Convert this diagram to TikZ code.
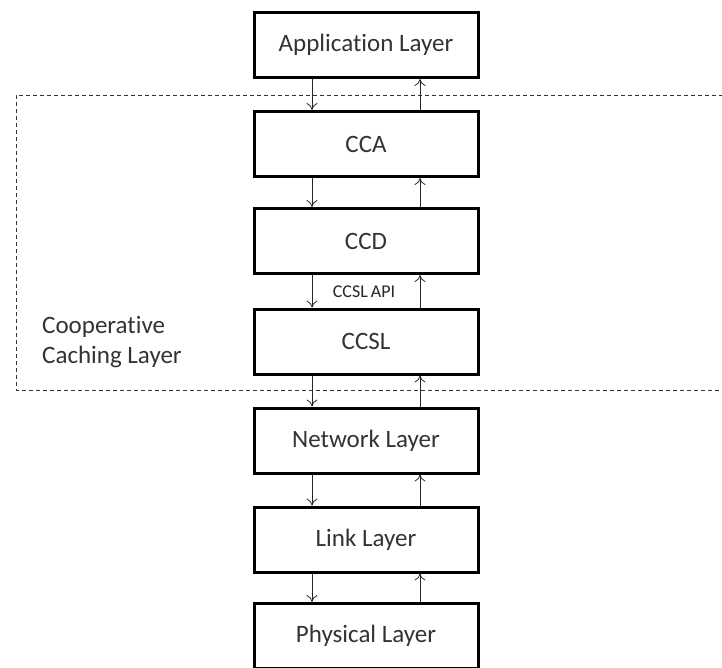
\documentclass[tikz,border=0pt]{standalone}
\usepackage{fontspec}
\setmainfont[Ligatures={NoCommon}]{Carlito}
\usetikzlibrary{arrows.meta}
\begin{document}
\begin{tikzpicture}[x=1pt,y=-1pt,
  layerbox/.style={draw=black, line width=3pt, fill=white, minimum width=224pt, minimum height=65pt, inner sep=0pt,
    font=\fontsize{25}{29}\selectfont, text=black!80},
  flow/.style={draw=black!85, line width=0.8pt, -{To[length=7pt,width=11pt]}},
  grp/.style={draw=black!80, line width=0.8pt, dash pattern=on 4pt off 3pt}]
\useasboundingbox (0,0) rectangle (722,668);
% dashed group outline (right side runs past the picture edge)
\draw[grp] (730,95) -- (16,95) -- (16,390) -- (730,390);
\node[layerbox] (app) at (366,45) {Application Layer};
\node[layerbox] (cca) at (366,144) {CCA};
\node[layerbox] (ccd) at (366,241) {CCD};
\node[layerbox] (ccsl) at (366,341.5) {CCSL};
\node[layerbox] (net) at (366,440.5) {Network Layer};
\node[layerbox] (link) at (366,539.5) {Link Layer};
\node[layerbox] (phy) at (366,636) {Physical Layer};
\foreach \a/\b in {app/cca, cca/ccd, ccd/ccsl, ccsl/net, net/link, link/phy}{
  \draw[flow] ([xshift=-54pt]\a.south) -- ([xshift=-54pt]\b.north);
  \draw[flow] ([xshift=54pt]\b.north) -- ([xshift=54pt]\a.south);
}
\node[font=\fontsize{18}{20}\selectfont, text=black!85, inner sep=0pt] (api) at (364,292) {CCSL\hspace{3pt}API};
\node[font=\fontsize{25}{30}\selectfont, text=black!80, align=left, anchor=north west, inner sep=0pt] (coop) at (42,316) {Cooperative\\Caching Layer};
\end{tikzpicture}
\end{document}
